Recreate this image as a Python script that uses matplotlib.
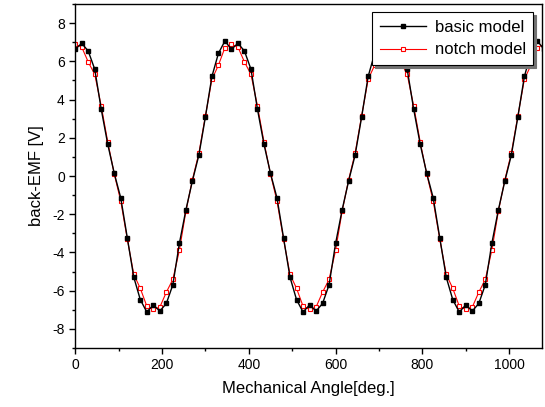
import matplotlib
matplotlib.use("Agg")
import matplotlib.pyplot as plt
from matplotlib.ticker import MultipleLocator

plt.rcParams["font.family"] = ["Liberation Sans", "DejaVu Sans"]
plt.rcParams["axes.unicode_minus"] = False

# mechanical angle, deg (one sample every 15 deg)
angle = [0, 15, 30, 45, 60, 75, 90, 105, 120, 135, 150, 165,
         180, 195, 210, 225, 240, 255, 270, 285, 300, 315, 330, 345,
         360, 375, 390, 405, 420, 435, 450, 465, 480, 495, 510, 525,
         540, 555, 570, 585, 600, 615, 630, 645, 660, 675, 690, 705,
         720, 735, 750, 765, 780, 795, 810, 825, 840, 855, 870, 885,
         900, 915, 930, 945, 960, 975, 990, 1005, 1020, 1035, 1050, 1065,
         1080]

basic = [6.63, 6.95, 6.54, 5.59, 3.49, 1.66, 0.14, -1.15, -3.23, -5.30, -6.47, -7.12,
         -6.75, -7.07, -6.67, -5.69, -3.53, -1.78, -0.26, 1.10, 3.09, 5.21, 6.42, 7.07,
         6.63, 6.95, 6.54, 5.59, 3.49, 1.66, 0.14, -1.15, -3.23, -5.30, -6.47, -7.12,
         -6.75, -7.07, -6.67, -5.69, -3.53, -1.78, -0.26, 1.10, 3.09, 5.21, 6.42, 7.07,
         6.63, 6.95, 6.54, 5.59, 3.49, 1.66, 0.14, -1.15, -3.23, -5.30, -6.47, -7.12,
         -6.75, -7.07, -6.67, -5.69, -3.53, -1.78, -0.26, 1.10, 3.09, 5.21, 6.42, 7.07,
         6.63]

notch = [6.89, 6.75, 5.97, 5.32, 3.66, 1.78, 0.10, -1.32, -3.30, -5.15, -5.88, -6.81,
         -6.98, -6.86, -6.08, -5.41, -3.89, -1.85, -0.20, 1.20, 3.15, 5.06, 5.80, 6.72,
         6.89, 6.75, 5.97, 5.32, 3.66, 1.78, 0.10, -1.32, -3.30, -5.15, -5.88, -6.81,
         -6.98, -6.86, -6.08, -5.41, -3.89, -1.85, -0.20, 1.20, 3.15, 5.06, 5.80, 6.72,
         6.89, 6.75, 5.97, 5.32, 3.66, 1.78, 0.10, -1.32, -3.30, -5.15, -5.88, -6.81,
         -6.98, -6.86, -6.08, -5.41, -3.89, -1.85, -0.20, 1.20, 3.15, 5.06, 5.80, 6.72,
         6.89]

fig = plt.figure(figsize=(5.45, 4.07), dpi=100)
ax = fig.add_axes([0.138, 0.145, 0.856, 0.845])

ax.plot(angle, notch, color="red", lw=0.8, marker="s", ms=3.0,
        mfc="white", mec="red", mew=0.8, label="notch model", zorder=2)
ax.plot(angle, basic, color="black", lw=1.0, marker="s", ms=3.2,
        mfc="black", mec="black", label="basic model", zorder=3)

ax.set_xlim(0, 1075)
ax.set_ylim(-9, 9)
ax.xaxis.set_major_locator(MultipleLocator(200))
ax.xaxis.set_minor_locator(MultipleLocator(100))
ax.yaxis.set_major_locator(MultipleLocator(2))
ax.yaxis.set_minor_locator(MultipleLocator(1))
ax.tick_params(which="both", direction="out", top=False, right=False,
               labelsize=10, width=1)
ax.tick_params(which="major", length=4)
ax.tick_params(which="minor", length=2.5)
for s in ax.spines.values():
    s.set_linewidth(1)

ax.set_xlabel("Mechanical Angle[deg.]", fontsize=12, labelpad=6)
ax.set_ylabel("back-EMF [V]", fontsize=12, labelpad=6)

h, l = ax.get_legend_handles_labels()
leg = ax.legend(h[::-1], l[::-1], loc="upper right", fontsize=12,
                frameon=True, fancybox=False, handlelength=2.8,
                handletextpad=0.5, borderaxespad=0.5, labelspacing=0.45,
                borderpad=0.45,
                shadow={"color": "0.45", "alpha": 1})
leg.get_frame().set_edgecolor("black")
leg.get_frame().set_linewidth(0.8)

fig.savefig("out.png", dpi=100)
